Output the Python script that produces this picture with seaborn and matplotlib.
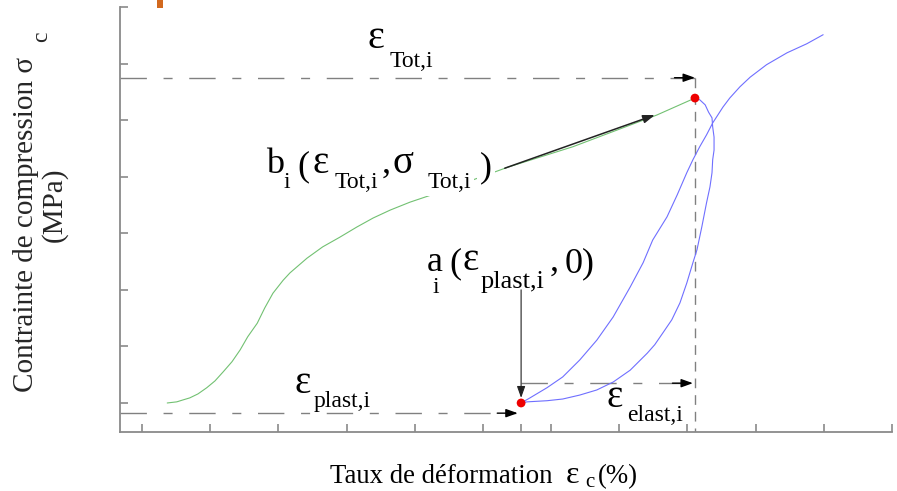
import matplotlib
matplotlib.use('Agg')
import matplotlib.pyplot as plt
from matplotlib.patches import Rectangle
import seaborn as sns

# Curve data (strain in %, stress in MPa)
load_x = [1.37, 1.51, 1.59, 1.70, 1.82, 1.95, 2.07, 2.19, 2.32, 2.44, 2.55, 2.69, 2.80, 2.92,
          3.07, 3.17, 3.42, 3.65, 3.90, 4.15, 4.39, 4.64, 4.93, 5.25, 6.37, 7.32, 8.55, 9.11]
load_y = [0.00, 0.02, 0.05, 0.09, 0.16, 0.27, 0.39, 0.55, 0.73, 0.94, 1.17, 1.41, 1.68, 1.94,
          2.17, 2.30, 2.56, 2.76, 2.93, 3.11, 3.27, 3.41, 3.55, 3.68, 4.17, 4.53, 5.09, 5.39]

unload_x = [9.11, 9.18, 9.26, 9.31, 9.36, 9.37, 9.39, 9.39, 9.37, 9.36, 9.33, 9.28, 9.21, 9.14,
            9.08, 8.99, 8.89, 8.77, 8.64, 8.52, 8.41, 8.16, 7.91, 7.67, 7.42, 7.17, 6.94, 6.65, 6.56]
unload_y = [5.39, 5.36, 5.27, 5.14, 5.04, 4.88, 4.70, 4.47, 4.30, 4.07, 3.82, 3.54, 3.11, 2.71,
            2.48, 2.12, 1.77, 1.47, 1.24, 1.03, 0.88, 0.58, 0.37, 0.23, 0.14, 0.07, 0.04, 0.02, 0.00]

reload_x = [6.56, 6.69, 6.94, 7.17, 7.42, 7.67, 7.91, 8.16, 8.35, 8.49, 8.70, 8.85, 8.99, 9.08,
            9.18, 9.28, 9.37, 9.52, 9.62, 9.77, 9.92, 10.16, 10.46, 10.75, 10.99]
reload_y = [0.00, 0.09, 0.27, 0.46, 0.76, 1.11, 1.52, 2.05, 2.48, 2.88, 3.29, 3.68, 4.07, 4.30,
            4.53, 4.74, 4.95, 5.23, 5.39, 5.59, 5.76, 5.98, 6.19, 6.35, 6.51]

# points a_i (plastic strain, 0) and b_i (total strain, total stress)
pts_x = [6.56, 9.11]
pts_y = [0.0, 5.39]

# annotation levels
eps_tot_level = 5.75
eps_plast_level = -0.18
eps_elast_level = 0.35

xticks = list(range(1, 13))
yticks = list(range(0, 8))

W, H = 897, 491
SERIF = ['Liberation Serif', 'DejaVu Serif']

sns.set_style('white')
plt.rcParams['font.family'] = SERIF

fig = plt.figure(figsize=(W / 100, H / 100), dpi=100)
ax = fig.add_axes([120 / W, 1 - 432 / H, 772 / W, 425 / H])

sns.lineplot(x=load_x, y=load_y, sort=False, estimator=None, color='#72c172', lw=0.8, ax=ax, zorder=2)
sns.lineplot(x=unload_x, y=unload_y, sort=False, estimator=None, color='#6f6fff', lw=0.8, ax=ax, zorder=2)
sns.lineplot(x=reload_x, y=reload_y, sort=False, estimator=None, color='#6f6fff', lw=0.8, ax=ax, zorder=2)
sns.scatterplot(x=pts_x, y=pts_y, color='#ee0000', s=40, edgecolor='none', ax=ax, zorder=6)

ax.set_xlim(0.677, 12.0)
ax.set_ylim(-0.513, 7.0)
ax.set_xticks(xticks)
ax.set_yticks(yticks)
ax.set_xticks([pts_x[0]], minor=True)
ax.tick_params(which='both', direction='in', length=6, width=1.2, color='#8a8a8a',
               bottom=True, left=True, labelbottom=False, labelleft=False)
for s in ['top', 'right']:
    ax.spines[s].set_visible(False)
for s in ['left', 'bottom']:
    ax.spines[s].set_color('#8a8a8a')
    ax.spines[s].set_linewidth(1.3)

dash = (0, (19, 12, 6.5, 12))
dcol = '#808080'
head = dict(arrowstyle='-|>,head_length=0.7,head_width=0.25', color='black', lw=1, shrinkA=0, shrinkB=0)

# total strain: horizontal dashed arrow and vertical dashed drop
ax.plot([0.677, pts_x[1]], [eps_tot_level, eps_tot_level], color=dcol, lw=1, ls=dash, zorder=1)
ax.annotate('', xy=(pts_x[1], eps_tot_level), xytext=(pts_x[1] - 0.3, eps_tot_level), arrowprops=head)
ax.plot([pts_x[1], pts_x[1]], [eps_tot_level, -0.513], color=dcol, lw=1, ls=(0, (7, 5)), zorder=1)

# plastic strain
ax.plot([0.677, pts_x[0] - 0.05], [eps_plast_level, eps_plast_level], color=dcol, lw=1, ls=dash, zorder=1)
ax.annotate('', xy=(pts_x[0] - 0.05, eps_plast_level), xytext=(pts_x[0] - 0.35, eps_plast_level), arrowprops=head)

# elastic strain
ax.plot([pts_x[0], pts_x[1] - 0.03], [eps_elast_level, eps_elast_level], color=dcol, lw=1, ls=dash, zorder=1)
ax.annotate('', xy=(pts_x[1] - 0.03, eps_elast_level), xytext=(pts_x[1] - 0.33, eps_elast_level), arrowprops=head)

# pointers to a_i and b_i
ax.annotate('', xy=(pts_x[0], 0.09), xytext=(pts_x[0], 2.0),
            arrowprops=dict(arrowstyle='-|>,head_length=0.7,head_width=0.25', color='#222222', lw=0.8,
                            shrinkA=0, shrinkB=0))
ax.annotate('', xy=(8.52, 5.09), xytext=(6.32, 4.15),
            arrowprops=dict(arrowstyle='-|>,head_length=0.7,head_width=0.25', color='#222222', lw=1.1,
                            shrinkA=0, shrinkB=0))


def put(px, py, s, size, bg=False, **kw):
    t = fig.text(px / W, 1 - py / H, s, fontsize=size, family=SERIF, ha='left', va='baseline',
                 color='black', zorder=5, **kw)
    if bg:
        t.set_bbox(dict(facecolor='white', edgecolor='none', pad=2))
    return t


# epsilon Tot,i
put(367, 48, 'ε', 29)
put(390, 67, 'Tot,i', 17)

# b_i ( eps Tot,i , sigma Tot,i )
put(266, 173, 'b', 26)
put(283, 188, 'i', 17)
put(297, 175, '(', 26)
put(312, 173, 'ε', 28)
put(335, 188, 'Tot,i', 17, bg=True)
put(382, 173, ',', 26, bg=True)
put(392, 173, 'σ', 28, bg=True)
put(428, 188, 'Tot,i', 17, bg=True)
put(480, 176, ')', 26, bg=True)

# a_i ( eps plast,i , 0)
put(427, 271, 'a', 26)
put(432, 293, 'i', 17)
put(449, 272, '(', 26)
put(462, 270, 'ε', 28)
put(481, 288, 'plast,i', 19)
put(550, 271, ',', 26)
put(565, 272, '0)', 26)

# epsilon plast,i
put(294, 393, 'ε', 28)
put(314, 407, 'plast,i', 17)

# epsilon elast,i
put(607, 407, 'ε', 28)
put(627, 421, 'elast,i', 17)

# axis labels
put(330, 483, 'Taux de déformation', 19.3)
put(566, 483, 'ε', 23)
put(585, 487, 'c', 15)
put(598, 483, '(%)', 19.3)

fig.text(33 / W, 1 - 392 / H, 'Contrainte de compression σ', fontsize=21, family=SERIF,
         rotation=90, rotation_mode='anchor', ha='left', va='baseline')
fig.text(47 / W, 1 - 42 / H, 'c', fontsize=17, family=SERIF,
         rotation=90, rotation_mode='anchor', ha='left', va='baseline')
fig.text(61 / W, 1 - 205 / H, '(MPa)', fontsize=21, family=SERIF,
         rotation=90, rotation_mode='anchor', ha='center', va='baseline')

fig.add_artist(Rectangle((157 / W, 1 - 8 / H), 6 / W, 8 / H, transform=fig.transFigure,
                         facecolor='#d2691e', edgecolor='none'))

fig.savefig('out.png', dpi=100)
